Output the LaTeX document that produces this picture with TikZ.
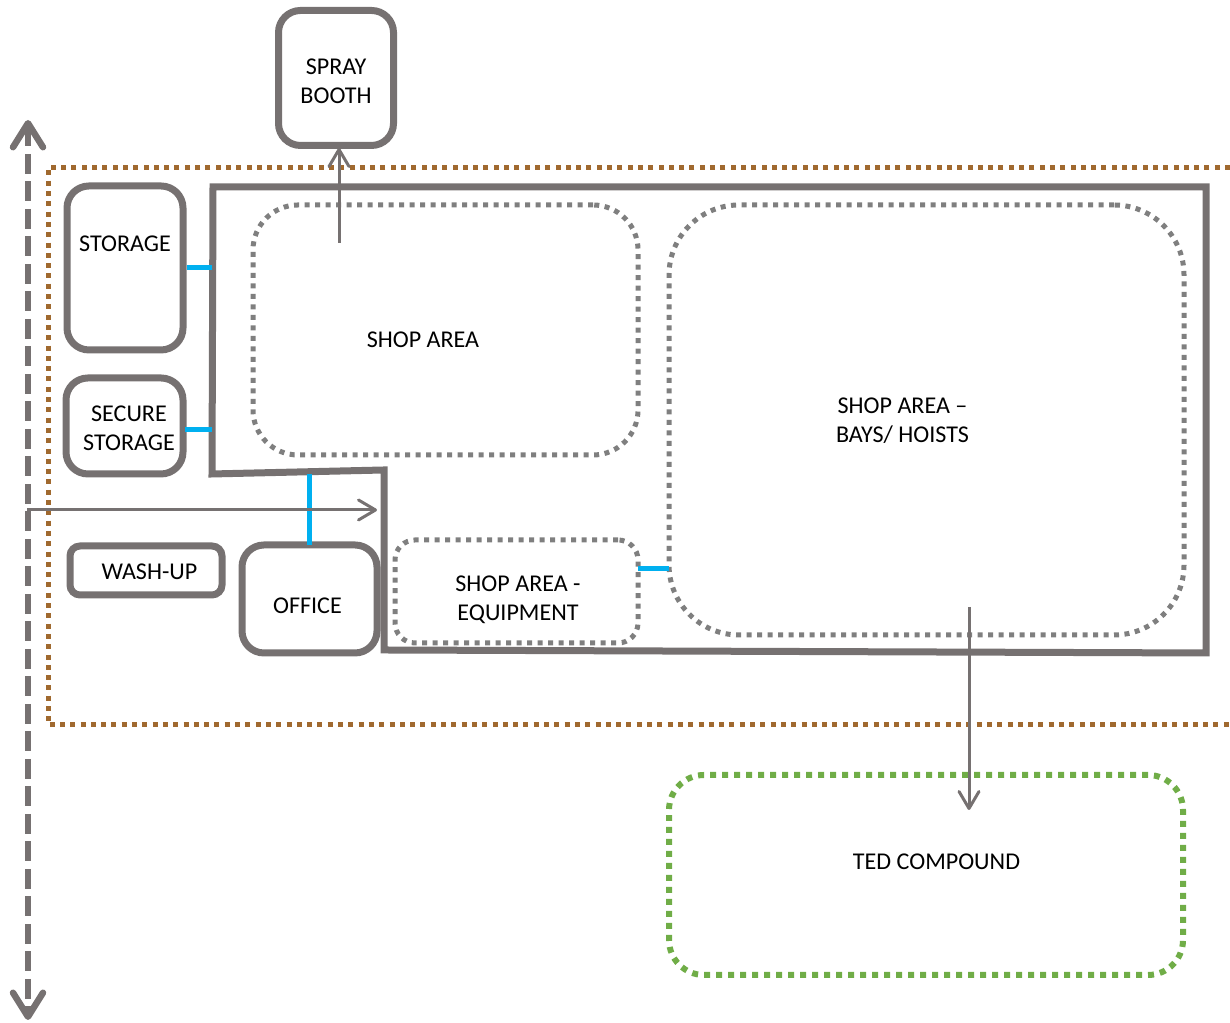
\documentclass[tikz,border=0pt]{standalone}
\usepackage{fontspec}
\setmainfont{Carlito}
\usepackage{xcolor}
\usetikzlibrary{arrows.meta,calc,positioning}
\definecolor{wallgray}{HTML}{767171}
\definecolor{zonegray}{HTML}{7F7F7F}
\definecolor{sitebrown}{HTML}{A0692F}
\definecolor{tedgreen}{HTML}{70AD47}
\definecolor{linkblue}{HTML}{00B0F0}

\begin{document}
\begin{tikzpicture}[
    room/.style={rectangle, draw=wallgray, line width=0.07cm, rounded corners=0.22cm, inner sep=0pt},
    zone/.style={rectangle, draw=zonegray, line width=0.05cm, dash pattern=on 0.05cm off 0.055cm, inner sep=0pt},
    lbl/.style={align=center, inner sep=0pt, font=\fontsize{6.85}{8.25}\selectfont},
    arr/.style={-{Straight Barb[length=0.17cm,width=0.2cm,round]}, draw=wallgray, line width=0.03cm},
    link/.style={draw=linkblue, line width=0.05cm}
  ]
  \useasboundingbox (0,0) rectangle (12.30,10.23);

  % Site boundary
  \coordinate (siteA) at (12.30,8.55);
  \coordinate (siteB) at (0.48,8.55);
  \coordinate (siteC) at (0.48,2.98);
  \coordinate (siteD) at (12.30,2.98);
  \draw[sitebrown, line width=0.05cm, dash pattern=on 0.05cm off 0.053cm] (siteA) -- (siteB) -- (siteC) -- (siteD);

  % Main building outline
  \coordinate (mainA) at (2.13,8.36);
  \coordinate (mainB) at (12.06,8.36);
  \coordinate (mainC) at (12.06,3.70);
  \coordinate (mainD) at (3.84,3.73);
  \coordinate (mainE) at (3.84,5.53);
  \coordinate (mainF) at (2.12,5.49);
  \draw[wallgray, line width=0.07cm] (mainA) -- (mainB) -- (mainC) -- (mainD) -- (mainE) -- (mainF) -- cycle;

  % Rooms
  \node[room, minimum width=1.15cm, minimum height=1.35cm] (spray) at (3.36,9.45) {};
  \node[room, minimum width=1.16cm, minimum height=1.64cm] (storage) at (1.25,7.55) {};
  \node[room, minimum width=1.17cm, minimum height=0.96cm] (secure) at (1.245,5.97) {};
  \node[room, minimum width=1.52cm, minimum height=0.49cm, rounded corners=0.1cm] (washup) at (1.46,4.525) {};
  \node[room, minimum width=1.35cm, minimum height=1.08cm] (office) at (3.095,4.24) {};

  % Shop zones
  \node[zone, minimum width=3.85cm, minimum height=2.50cm, rounded corners=0.45cm] (shop) at (4.455,6.93) {};
  \node[zone, minimum width=5.15cm, minimum height=4.30cm, rounded corners=0.70cm] (bays) at (9.265,6.03) {};
  \node[zone, minimum width=2.43cm, minimum height=1.03cm, rounded corners=0.2cm] (equip) at (5.165,4.315) {};
  \node[rectangle, draw=tedgreen, line width=0.06cm, dash pattern=on 0.06cm off 0.06cm, rounded corners=0.35cm,
        minimum width=5.14cm, minimum height=2.00cm, inner sep=0pt] (ted) at (9.26,1.48) {};

  % Labels
  \node[lbl] (lspray) at (3.36,9.42) {SPRAY\\BOOTH};
  \node[lbl] (lstorage) at (1.25,7.79) {STORAGE};
  \node[lbl] (lsecure) at (1.29,5.95) {SECURE\\STORAGE};
  \node[lbl] (lwash) at (1.495,4.51) {WASH-UP};
  \node[lbl] (loffice) at (3.075,4.175) {OFFICE};
  \node[lbl] (lshop) at (4.23,6.83) {SHOP AREA};
  \node[lbl] (lbays) at (9.025,6.02) {SHOP AREA --\\BAYS/ HOISTS};
  \node[lbl] (lequip) at (5.18,4.235) {SHOP AREA -\\EQUIPMENT};
  \node[lbl] (lted) at (9.365,1.61) {TED COMPOUND};

  % Blue openings
  \coordinate (wallS) at (2.12,7.55);
  \coordinate (secA) at (1.85,5.93);
  \coordinate (secB) at (2.12,5.93);
  \coordinate (offT) at (3.09,5.49);
  \coordinate (offB) at (3.09,4.78);
  \coordinate (eqA) at (6.38,4.54);
  \coordinate (eqB) at (6.69,4.54);
  \draw[link] (storage.east) -- (wallS);
  \draw[link] (secA) -- (secB);
  \draw[link] (offT) -- (offB);
  \draw[link] (eqA) -- (eqB);

  % Circulation arrows
  \coordinate (upS) at (3.39,7.80);
  \coordinate (upE) at (3.39,8.75);
  \coordinate (acrS) at (0.27,5.13);
  \coordinate (acrE) at (3.77,5.13);
  \coordinate (dnS) at (9.69,4.16);
  \coordinate (dnE) at (9.69,2.13);
  \draw[arr] (upS) -- (upE);
  \draw[arr] (acrS) -- (acrE);
  \draw[arr] (dnS) -- (dnE);

  % Road
  \coordinate (roadT) at (0.28,9.03);
  \coordinate (roadB) at (0.28,0.03);
  \draw[{Straight Barb[length=0.24cm,width=0.3cm,round]}-{Straight Barb[length=0.24cm,width=0.3cm,round]},
        draw=wallgray, line width=0.065cm, dash pattern=on 0.2cm off 0.075cm] (roadT) -- (roadB);
\end{tikzpicture}
\end{document}
